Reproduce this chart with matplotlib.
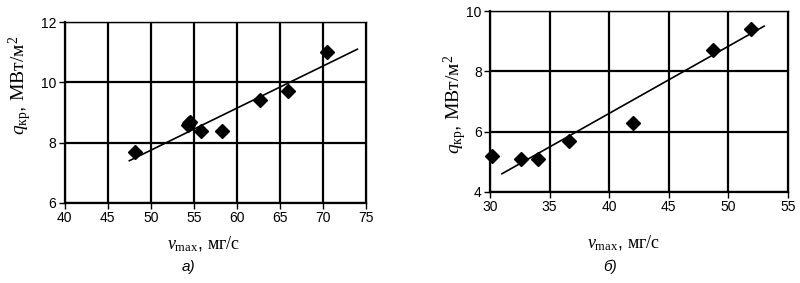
import matplotlib
matplotlib.use("Agg")
from matplotlib import pyplot as plt

plt.rcParams['font.family'] = ['Liberation Sans', 'DejaVu Sans']
plt.rcParams['mathtext.fontset'] = 'custom'
plt.rcParams['mathtext.rm'] = 'Liberation Serif'
plt.rcParams['mathtext.it'] = 'Liberation Serif:italic'

# panel a
A_X = [48.2, 54.3, 54.6, 54.4, 55.8, 58.3, 62.7, 65.9, 70.5]
A_Y = [7.7, 8.6, 8.7, 8.65, 8.4, 8.4, 9.4, 9.7, 11.0]
A_TREND_X = [47.5, 74.0]
A_TREND_Y = [7.4, 11.1]

# panel b
B_X = [30.2, 32.6, 34.0, 36.6, 42.0, 48.7, 51.9]
B_Y = [5.2, 5.1, 5.1, 5.7, 6.3, 8.7, 9.4]
B_TREND_X = [31.0, 53.0]
B_TREND_Y = [4.6, 9.5]

fig = plt.figure(figsize=(8, 2.83), dpi=100)
ax1 = fig.add_axes([0.081, 0.283, 0.3765, 0.639])
ax2 = fig.add_axes([0.6125, 0.322, 0.3725, 0.639])


def style(ax, xlim, xticks, ylim, yticks):
    ax.set_xlim(*xlim)
    ax.set_ylim(*ylim)
    ax.set_xticks(xticks)
    ax.set_yticks(yticks)
    ax.grid(True, color='black', linewidth=1.6)
    for s in ax.spines.values():
        s.set_color('black')
        s.set_linewidth(1.0)
    ax.spines['left'].set_linewidth(1.6)
    ax.spines['bottom'].set_linewidth(1.6)
    ax.tick_params(labelsize=10, length=4, width=1, pad=2)
    ax.set_axisbelow(True)


style(ax1, (40, 75), range(40, 76, 5), (6, 12), [6, 8, 10, 12])
style(ax2, (30, 55), range(30, 56, 5), (4, 10), [4, 6, 8, 10])

ax1.plot(A_TREND_X, A_TREND_Y, color='black', lw=1.2)
ax1.plot(A_X, A_Y, 'D', color='black', ms=7.5, clip_on=False)
ax2.plot(B_TREND_X, B_TREND_Y, color='black', lw=1.2)
ax2.plot(B_X, B_Y, 'D', color='black', ms=7.5, clip_on=False)

ylab = r"$q_{\mathrm{кр}}$, $\mathrm{МВт/м}^2$"
xlab = r"$v_{\mathrm{max}}$, $\mathrm{мг/с}$"
fig.text(0.025, 0.70, ylab, rotation=90, ha='center', va='center', fontsize=14)
fig.text(0.569, 0.63, ylab, rotation=90, ha='center', va='center', fontsize=14)
fig.text(0.255, 0.136, xlab, ha='center', va='center', fontsize=13)
fig.text(0.779, 0.142, xlab, ha='center', va='center', fontsize=13)
fig.text(0.236, 0.056, "а)", ha='center', va='center', fontsize=11, style='italic')
fig.text(0.762, 0.056, "б)", ha='center', va='center', fontsize=11, style='italic')

fig.savefig("out.png", dpi=100)
